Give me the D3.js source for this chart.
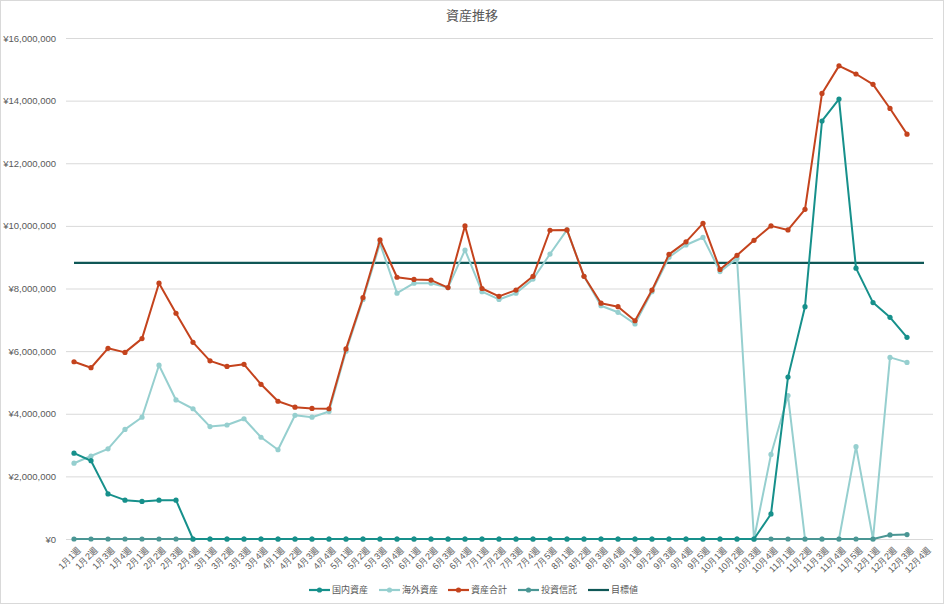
<!DOCTYPE html>
<html><head><meta charset="utf-8">
<script src="https://cdn.jsdelivr.net/npm/d3@7"></script>
<style>
body{margin:0;background:#fff;}
svg{display:block;font-family:"Noto Sans CJK JP","Noto Sans",sans-serif;}
</style></head><body>
<svg id="c" width="945" height="606"></svg>
<script>
const weeks = ["1月1週","1月2週","1月3週","1月4週","2月1週","2月2週","2月3週","2月4週","3月1週","3月2週","3月3週","3月4週","4月1週","4月2週","4月3週","4月4週","5月1週","5月2週","5月3週","5月4週","6月1週","6月2週","6月3週","6月4週","7月1週","7月2週","7月3週","7月4週","7月5週","8月1週","8月2週","8月3週","8月4週","9月1週","9月2週","9月3週","9月4週","9月5週","10月1週","10月2週","10月3週","10月4週","11月1週","11月2週","11月3週","11月4週","11月5週","12月1週","12月2週","12月3週","12月4週"];
const domestic = [2740000,2500000,1440000,1240000,1200000,1240000,1240000,0,0,0,0,0,0,0,0,0,0,0,0,0,0,0,0,0,0,0,0,0,0,0,0,0,0,0,0,0,0,0,0,0,0,800000,5170000,7420000,13350000,14050000,8650000,7550000,7080000,6440000,null];
const overseas = [2420000,2650000,2880000,3500000,3890000,5550000,4440000,4160000,3590000,3640000,3840000,3250000,2850000,3950000,3890000,4070000,6000000,7650000,9440000,7850000,8170000,8170000,8030000,9230000,7900000,7650000,7850000,8300000,9100000,9870000,8390000,7450000,7240000,6870000,7900000,9000000,9390000,9630000,8540000,8960000,0,2700000,4580000,0,0,0,2950000,0,5800000,5640000,null];
const total = [5660000,5470000,6090000,5960000,6400000,8170000,7210000,6280000,5690000,5510000,5580000,4940000,4400000,4210000,4170000,4160000,6070000,7710000,9550000,8360000,8290000,8270000,8030000,10000000,8000000,7750000,7950000,8390000,9860000,9870000,8390000,7530000,7420000,6970000,7950000,9090000,9490000,10080000,8610000,9060000,9540000,10000000,9870000,10530000,14230000,15110000,14850000,14520000,13750000,12930000,null];
const funds = [0,0,0,0,0,0,0,0,0,0,0,0,0,0,0,0,0,0,0,0,0,0,0,0,0,0,0,0,0,0,0,0,0,0,0,0,0,0,0,0,0,0,0,0,0,0,0,0,130000,140000,null];
const target = weeks.map(() => 8820000);
const yTicks = [0,2000000,4000000,6000000,8000000,10000000,12000000,14000000,16000000];

const seriesNames = ["国内資産","海外資産","資産合計","投資信託","目標値"];
const seriesData = [domestic, overseas, total, funds, target];
const colors = ["#16908b","#96cfcf","#c4431d","#4a9694","#0f5756"];
const markers = [true,true,true,true,false];

const svg = d3.select("#c");
svg.append("rect").attr("x",0.5).attr("y",0.5).attr("width",943).attr("height",603)
  .attr("fill","#fff").attr("stroke","#d9d9d9");

const x = d3.scalePoint().domain(weeks).range([74, 924]);
const y = d3.scaleLinear().domain([0,16000000]).range([539, 38]);

const fmt = v => "¥" + d3.format(",")(v);

// gridlines + y labels
const yAxis = d3.axisLeft(y).tickValues(yTicks).tickFormat(fmt).tickSize(-(933-66)).tickPadding(10);
const gy = svg.append("g").attr("transform","translate(66,0)").call(yAxis);
gy.select(".domain").remove();
gy.selectAll(".tick line").attr("stroke","#d9d9d9").attr("stroke-width",1);
gy.selectAll(".tick text").attr("fill","#595959").attr("font-size",9.5).attr("font-family","Liberation Sans, Arial, sans-serif");

// x axis
const xAxis = d3.axisBottom(x).tickSize(0).tickPadding(0);
const gx = svg.append("g").attr("transform","translate(0,539)").call(xAxis);
gx.select(".domain").attr("stroke","#d9d9d9").attr("d","M66,0.5H933");
gx.selectAll(".tick text").attr("fill","#595959").attr("font-size",9)
  .attr("text-anchor","end").attr("x",0).attr("y",0).attr("dy","0.35em")
  .attr("transform","translate(5,9) rotate(-45)");

// lines: draw order target, overseas, total, funds, domestic
const order = [4,1,2,3,0];
order.forEach(k => {
  const data = seriesData[k];
  const g = svg.append("g");
  g.append("path").datum(data).attr("d", d3.line().defined(d=>d!=null).x((d,i)=>x(weeks[i])).y(d=>y(d)))
    .attr("fill","none").attr("stroke",colors[k]).attr("stroke-width", k===4?2.2:2)
    .attr("stroke-linejoin","round");
  if (markers[k]) {
    g.selectAll("circle").data(data.map((d,i)=>({d,i})).filter(o=>o.d!=null)).join("circle")
      .attr("cx", o => x(weeks[o.i])).attr("cy", o => y(o.d)).attr("r", 2.6)
      .attr("fill", colors[k]);
  }
});

// title
svg.append("text").attr("x",472).attr("y",20).attr("text-anchor","middle")
  .attr("font-size",13).attr("fill","#595959").text("資産推移");

// legend
const legendX = [309, 379, 448, 518, 588];
const lg = svg.append("g").attr("transform","translate(0,590)");
seriesNames.forEach((n,k) => {
  const gg = lg.append("g").attr("transform",`translate(${legendX[k]},0)`);
  gg.append("line").attr("x1",0).attr("x2",21).attr("y1",0).attr("y2",0)
    .attr("stroke",colors[k]).attr("stroke-width",2.2);
  if (markers[k]) gg.append("circle").attr("cx",10.5).attr("cy",0).attr("r",2.6).attr("fill",colors[k]);
  gg.append("text").attr("x",23).attr("y",0).attr("dy","0.35em").attr("font-size",9)
    .attr("fill","#595959").text(n);
});
</script>
</body></html>
